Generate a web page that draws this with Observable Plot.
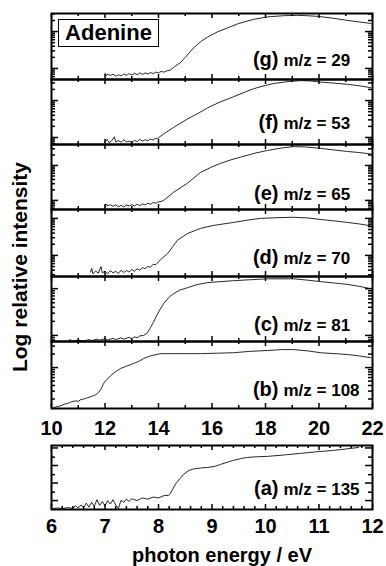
<!DOCTYPE html>
<html><head><meta charset="utf-8">
<script src="https://cdn.jsdelivr.net/npm/d3@7"></script>
<script src="https://cdn.jsdelivr.net/npm/@observablehq/plot@0.6"></script>
<style>
body{margin:0;background:#fff;}
#chart{position:relative;width:386px;height:566px;overflow:hidden;background:#fff;font-family:"Liberation Sans",Arial,Helvetica,sans-serif;color:#000;}
#chart svg{position:absolute;left:0;}
.ytitle{position:absolute;left:20px;top:267px;transform:translate(-50%,-50%) rotate(-90deg);white-space:nowrap;font-weight:bold;font-size:21px;line-height:22px;}
.xtitle{position:absolute;left:222px;top:555px;transform:translate(-50%,-50%);white-space:nowrap;font-weight:bold;font-size:20px;line-height:20px;}
.namebox{position:absolute;left:58px;top:19px;width:101px;height:28px;box-sizing:border-box;border:1px solid #000;background:#fff;font-weight:bold;font-size:22px;line-height:26px;text-align:center;}
</style></head><body><div id="chart"></div>
<script>
// ---- data ----
const molecule = "Adenine";
const panelLetters = ["g","f","e","d","c","b","a"];
const massLabels = ["29","53","65","70","81","108","135"];
const upperTickLabels = [10,12,14,16,18,20,22];
const lowerTickLabels = [6,7,8,9,10,11,12];
const xTitle = "photon energy / eV";
const yTitle = "Log relative intensity";

const energyG = [12.0,12.05,12.1,12.2,12.3,12.4,12.5,12.6,12.7,12.8,12.9,13.0,13.1,13.2,13.3,13.4,13.5,13.6,13.7,13.8,13.9,14.0,14.1,14.2,14.3,14.45,14.6,14.82,15.0,15.3,15.6,15.83,16.2,16.58,17.0,17.55,18.1,18.67,19.2,19.57,20.0,20.54,21.0,21.5,21.93];
const logIntG = [-0.13,-0.2,-0.15,-0.19,-0.16,-0.21,-0.17,-0.2,-0.15,-0.19,-0.14,-0.18,-0.13,-0.17,-0.12,-0.16,-0.12,-0.15,-0.11,-0.14,-0.1,-0.12,-0.08,-0.1,-0.07,-0.04,0.05,0.16,0.3,0.55,0.74,0.85,0.99,1.1,1.22,1.33,1.4,1.43,1.44,1.43,1.41,1.36,1.31,1.26,1.22];

const energyF = [12.0,12.08,12.15,12.25,12.35,12.4,12.5,12.6,12.7,12.8,12.9,13.0,13.1,13.2,13.3,13.4,13.5,13.6,13.7,13.8,13.9,13.96,14.2,14.56,15.08,15.5,15.83,16.3,16.8,17.2,17.55,18.0,18.3,18.8,19.31,19.7,20.06,20.6,21.07,21.5,21.93];
const logIntF = [-0.12,-0.05,-0.14,-0.09,0.02,-0.12,-0.08,-0.13,-0.06,-0.12,-0.1,-0.14,-0.08,-0.11,-0.05,-0.1,-0.06,-0.09,-0.04,-0.07,-0.02,-0.03,0.1,0.27,0.5,0.66,0.8,0.96,1.1,1.22,1.32,1.41,1.46,1.51,1.54,1.53,1.5,1.47,1.44,1.4,1.35];

const energyE = [12.0,12.05,12.1,12.2,12.3,12.4,12.5,12.6,12.7,12.8,12.9,13.0,13.1,13.2,13.3,13.4,13.5,13.6,13.7,13.8,13.9,14.0,14.1,14.19,14.56,15.08,15.57,16.0,16.32,16.7,17.07,17.6,18.07,18.6,19.05,19.5,20.06,20.6,21.07,21.5,21.93];
const logIntE = [-0.2,-0.1,-0.16,-0.12,-0.17,-0.13,-0.18,-0.14,-0.19,-0.13,-0.16,-0.12,-0.16,-0.11,-0.15,-0.1,-0.13,-0.08,-0.11,-0.06,-0.08,-0.04,-0.03,0.0,0.23,0.49,0.8,0.96,1.06,1.16,1.24,1.35,1.43,1.5,1.54,1.53,1.49,1.44,1.4,1.37,1.33];

const energyD = [11.46,11.5,11.55,11.65,11.75,11.85,11.9,12.0,12.1,12.2,12.3,12.4,12.5,12.6,12.7,12.8,12.9,13.0,13.1,13.2,13.3,13.4,13.5,13.6,13.7,13.8,13.9,14.07,14.34,14.71,15.08,15.57,16.06,16.8,17.3,17.81,18.5,19.05,19.6,20.06,20.6,21.07,21.5,21.93];
const logIntD = [-0.45,-0.35,-0.5,-0.42,-0.48,-0.3,-0.47,-0.43,-0.5,-0.41,-0.47,-0.43,-0.49,-0.4,-0.46,-0.41,-0.45,-0.38,-0.43,-0.36,-0.4,-0.33,-0.36,-0.3,-0.32,-0.24,-0.25,-0.12,0.05,0.41,0.59,0.73,0.81,0.89,0.95,1.0,1.02,1.03,1.01,0.97,0.93,0.89,0.85,0.8];

const energyC = [10.6,10.7,10.8,11.0,11.2,11.4,11.5,11.7,11.8,12.0,12.1,12.3,12.4,12.6,12.7,12.9,13.0,13.1,13.2,13.3,13.44,13.59,13.81,14.0,14.19,14.4,14.56,14.8,15.08,15.4,15.83,16.3,16.8,17.4,18.07,18.5,19.05,19.6,20.06,20.6,21.07,21.5,21.93];
const logIntC = [-0.12,-0.09,-0.12,-0.1,-0.12,-0.09,-0.11,-0.08,-0.1,-0.07,-0.1,-0.06,-0.09,-0.05,-0.08,-0.04,-0.07,-0.03,-0.05,-0.01,0.0,0.06,0.28,0.5,0.68,0.82,0.89,0.97,1.02,1.08,1.13,1.15,1.17,1.19,1.21,1.21,1.21,1.18,1.15,1.12,1.09,1.05,1.0];

const energyB = [10.07,10.2,10.35,10.5,10.6,10.75,10.9,11.0,11.1,11.2,11.35,11.5,11.6,11.72,11.85,11.94,12.05,12.21,12.4,12.58,12.8,13.07,13.3,13.44,13.7,14.07,14.56,15.0,15.57,16.2,16.8,17.4,18.07,18.6,19.05,19.6,20.06,20.6,21.07,21.5,21.93];
const logIntB = [0.11,0.13,0.15,0.19,0.2,0.24,0.26,0.25,0.29,0.3,0.33,0.36,0.38,0.42,0.52,0.64,0.72,0.82,0.91,0.98,1.03,1.09,1.15,1.2,1.26,1.31,1.31,1.31,1.31,1.32,1.33,1.36,1.38,1.4,1.4,1.37,1.33,1.31,1.29,1.26,1.22];

const energyA = [6.04,6.1,6.2,6.3,6.4,6.45,6.5,6.55,6.6,6.65,6.7,6.75,6.8,6.85,6.9,6.95,7.0,7.05,7.1,7.15,7.2,7.25,7.3,7.35,7.4,7.45,7.5,7.6,7.7,7.8,7.9,8.0,8.1,8.19,8.22,8.26,8.32,8.4,8.47,8.56,8.65,8.8,8.92,9.05,9.16,9.3,9.4,9.55,9.66,9.85,10.04,10.35,10.65,10.95,11.27,11.5,11.74];
const logIntA = [-0.45,-0.42,-0.46,-0.4,-0.44,-0.3,-0.43,-0.25,-0.4,-0.15,-0.38,-0.1,-0.33,0.05,-0.28,-0.05,-0.3,0.0,-0.2,0.05,-0.25,-0.45,0.02,-0.1,0.08,-0.05,0.1,0.0,0.15,0.08,0.2,0.15,0.28,0.3,0.4,0.62,0.95,1.25,1.5,1.7,1.8,1.86,1.89,1.95,2.06,2.2,2.29,2.4,2.46,2.5,2.52,2.6,2.69,2.78,2.86,2.94,3.03];

const energies = [energyG,energyF,energyE,energyD,energyC,energyB,energyA];
const logInts = [logIntG,logIntF,logIntE,logIntD,logIntC,logIntB,logIntA];
const yDomains = [[-0.30,1.49],[-0.19,1.57],[-0.26,1.60],[-0.57,1.24],[-0.13,1.26],[0.09,1.58],[-0.51,3.14]];

// ---- layout (pixels) ----
const frameTops    = [13,79,144,209,276,341,445];
const frameBottoms = [79,144,209,276,341,408,509];
const labelRaise   = [20,22,16,19,17,19,21];

const chart = document.getElementById("chart");
const FONT = '"Liberation Sans",Arial,Helvetica,sans-serif';

function panel(i) {
  const isA = i === 6;
  const hasLabels = i >= 5;
  const H = frameBottoms[i] - frameTops[i];
  const W = 321;
  const mb = hasLabels ? 40 : 1;
  const [y0, y1] = yDomains[i];
  const xDomain = isA ? [6, 12] : [10, 22];
  const xMajor = isA ? lowerTickLabels : d3.range(10, 23, 2);
  const xMinor = isA ? d3.range(6, 12.001, 0.2).filter(v => Math.abs(v - Math.round(v)) > 0.01)
                     : d3.range(11, 22, 2);
  const minorMult = isA ? [3] : [2,3,4,5,6,7,8,9];
  const majY = d3.range(Math.ceil(y0), Math.floor(y1) + 1);
  const minY = [];
  for (let k = Math.floor(y0) - 1; k <= Math.ceil(y1); k++)
    for (const m of minorMult) { const v = k + Math.log10(m); if (v > y0 + 0.01 && v < y1 - 0.01) minY.push(v); }
  const data = energies[i].map((x, j) => ({x, y: logInts[i][j]}));
  const tw = 1.5;
  const marks = [
    Plot.line(data, {x: "x", y: "y", stroke: "#111", strokeWidth: 0.9, clip: true}),
    Plot.tickX(xMajor, {x: d => d, insetBottom: H - 5, strokeWidth: tw}),
    Plot.tickX(xMajor, {x: d => d, insetTop: H - 5, strokeWidth: tw}),
    Plot.tickX(xMinor, {x: d => d, insetBottom: H - 3, strokeWidth: tw}),
    Plot.tickX(xMinor, {x: d => d, insetTop: H - 3, strokeWidth: tw}),
    Plot.tickY(majY, {y: d => d, insetRight: W - 7, strokeWidth: tw}),
    Plot.tickY(majY, {y: d => d, insetLeft: W - 7, strokeWidth: tw}),
    Plot.tickY(minY, {y: d => d, insetRight: W - 4, strokeWidth: tw}),
    Plot.tickY(minY, {y: d => d, insetLeft: W - 4, strokeWidth: tw}),
    Plot.frame({stroke: "#000", strokeWidth: 2}),
    Plot.text([`(${panelLetters[i]})`], {text: d => d, frameAnchor: "bottom-left", dx: 227, dy: -labelRaise[i],
      textAnchor: "end", lineAnchor: "middle", fontSize: 20, fontWeight: "bold", fill: "#000"}),
    Plot.text([`m/z = ${massLabels[i]}`], {text: d => d, frameAnchor: "bottom-left", dx: 232, dy: -labelRaise[i] + 1,
      textAnchor: "start", lineAnchor: "middle", fontSize: 17, fontWeight: "bold", fill: "#000"})
  ];
  if (hasLabels) {
    marks.push(Plot.axisX(isA ? lowerTickLabels : upperTickLabels, {anchor: "bottom", tickSize: 0, label: null,
      tickPadding: isA ? 9 : 12, fontSize: 20, fontWeight: "bold", fill: "#000", tickFormat: d => String(d)}));
  }
  const svg = Plot.plot({
    width: 386, height: H + 1 + mb,
    marginLeft: 51, marginRight: 14, marginTop: 1, marginBottom: mb,
    x: {domain: xDomain, label: null, ...(hasLabels ? {} : {axis: null})},
    y: {domain: [y0, y1], axis: null},
    style: {background: "none", fontFamily: FONT, color: "#000", overflow: "visible"},
    marks
  });
  svg.style.top = (frameTops[i] - 1) + "px";
  return svg;
}

for (let i = 0; i < 7; i++) chart.appendChild(panel(i));

const nb = document.createElement("div"); nb.className = "namebox"; nb.textContent = molecule; chart.appendChild(nb);
const yt = document.createElement("div"); yt.className = "ytitle"; yt.textContent = yTitle; chart.appendChild(yt);
const xt = document.createElement("div"); xt.className = "xtitle"; xt.textContent = xTitle; chart.appendChild(xt);
</script>
</body></html>
